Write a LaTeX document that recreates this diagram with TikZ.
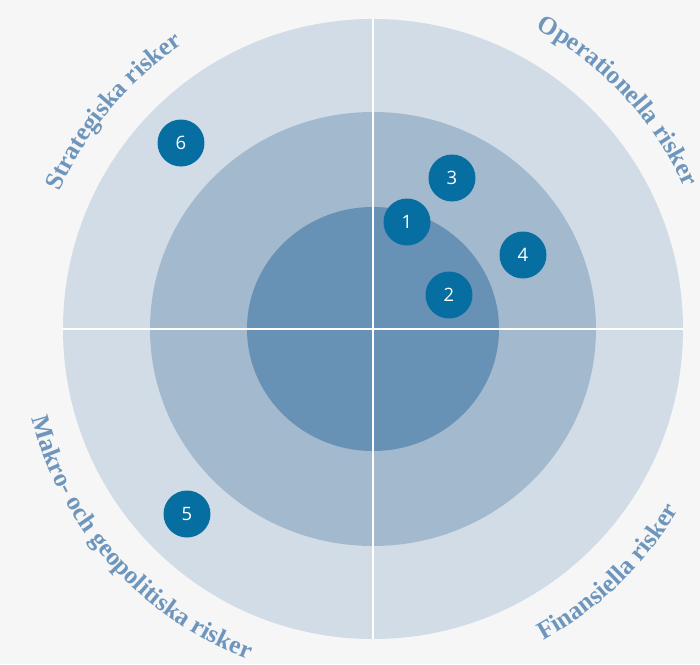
\documentclass[tikz,border=0pt]{standalone}
\usepackage{fontspec}
\setmainfont{Liberation Serif}
\newfontfamily\numfont{Open Sans}
\usetikzlibrary{decorations.text}

\definecolor{bgcol}{HTML}{F6F6F6}
\definecolor{outerring}{HTML}{D1DCE6}
\definecolor{midring}{HTML}{A3B9CE}
\definecolor{innerring}{HTML}{6791B5}
\definecolor{dotblue}{HTML}{066EA0}
\definecolor{labelblue}{HTML}{6E96BC}

\newcommand{\labelfont}{\fontsize{14.5}{14.5}\selectfont\bfseries}

\tikzset{
	riskdot/.style={circle, fill=dotblue, minimum size=0.94cm, inner sep=0pt, text=white,
		font=\numfont\fontsize{10.5}{10.5}\selectfont},
	arclabel/.style={decorate, decoration={text along path, text align=center,
		text color=labelblue, text format delimiters={|}{|}, text={|\labelfont|#1}}},
}

\begin{document}
\begin{tikzpicture}[x=0.02cm, y=0.02cm]

	\fill[bgcol] (-373,-335) rectangle (327,329);
	\useasboundingbox (-373,-335) rectangle (327,329);

	\fill[outerring] (0,0) circle (310);
	\fill[midring] (0,0) ellipse (223 and 217);
	\fill[innerring] (0,0) ellipse (126 and 122);
	\draw[white, line width=1.4pt] (0,310) -- (0,-310);
	\draw[white, line width=1.4pt] (-310,0) -- (310,0);

	\path[arclabel={Strategiska risker}] (165:342) arc[start angle=165, end angle=115, radius=342];
	\path[arclabel={Operationella risker}] (68:342) arc[start angle=68, end angle=18, radius=342];
	\path[arclabel={Makro- och geopolitiska risker}] (187:353) arc[start angle=187, end angle=257, radius=353];
	\path[arclabel={Finansiella risker}] (289:355) arc[start angle=289, end angle=339, radius=355];

	\foreach \n/\x/\y in {1/34/107, 2/76/34, 3/79/151, 4/150/74, 5/-186/-185, 6/-192/186}{
		\node[riskdot] (risk\n) at (\x,\y) {\n};
	}
\end{tikzpicture}
\end{document}
